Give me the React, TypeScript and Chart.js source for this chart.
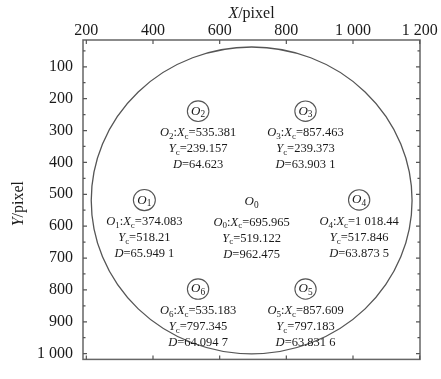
import React, { useEffect, useRef } from "react";
import { Chart, registerables } from "chart.js";

Chart.register(...registerables);

// ---- data ----
const HOLE_NAMES = ["1", "2", "3", "4", "5", "6"];
const HOLE_XC = [374.083, 535.381, 857.463, 1018.44, 857.609, 535.183];
const HOLE_YC = [518.21, 239.157, 239.373, 517.846, 797.183, 797.345];
const HOLE_D = [65.9491, 64.623, 63.9031, 63.8735, 63.8316, 64.0947];

const BIG_NAME = "0";
const BIG_XC = 695.965;
const BIG_YC = 519.122;
const BIG_D = 962.475;

const X_TICKS = [200, 400, 600, 800, 1000, 1200];
const Y_TICKS = [100, 200, 300, 400, 500, 600, 700, 800, 900, 1000];
const Y_MINOR = [50, 150, 250, 350, 450, 550, 650, 750, 850, 950];
const X_RANGE = [190, 1201];
const Y_RANGE = [16, 1018];

const SERIF = '"Liberation Serif", "Times New Roman", serif';
const TEXT_COLOR = "#1a1a1a";
const LINE_COLOR = "#555555";
const NOTE_SIZE = 12.5;

function fmtNum(v: number): string {
  const s = String(v);
  let [ip, dp] = s.split(".");
  ip = ip.replace(/\B(?=(\d{3})+(?!\d))/g, " ");
  if (dp) dp = dp.replace(/(\d{3})(?=\d)/g, "$1 ");
  return dp ? ip + "." + dp : ip;
}

type Seg = { t: string; it?: boolean; sub?: boolean };

function drawRich(ctx: CanvasRenderingContext2D, segs: Seg[], cx: number, cy: number, size: number) {
  const fontOf = (s: Seg) => `${s.it ? "italic " : ""}${s.sub ? size * 0.72 : size}px ${SERIF}`;
  let w = 0;
  for (const s of segs) {
    ctx.font = fontOf(s);
    w += ctx.measureText(s.t).width;
  }
  let x = cx - w / 2;
  ctx.textBaseline = "alphabetic";
  ctx.textAlign = "left";
  const base = cy + size * 0.34;
  for (const s of segs) {
    ctx.font = fontOf(s);
    ctx.fillText(s.t, x, base + (s.sub ? size * 0.22 : 0));
    x += ctx.measureText(s.t).width;
  }
}

function infoLines(name: string, xc: number, yc: number, d: number): Seg[][] {
  return [
    [{ t: "O", it: true }, { t: name, sub: true }, { t: ":" }, { t: "X", it: true }, { t: "c", sub: true }, { t: "=" + fmtNum(xc) }],
    [{ t: "Y", it: true }, { t: "c", sub: true }, { t: "=" + fmtNum(yc) }],
    [{ t: "D", it: true }, { t: "=" + fmtNum(d) }],
  ];
}

const overlayPlugin = {
  id: "overlay",
  afterDraw(chart: any) {
    const ctx: CanvasRenderingContext2D = chart.ctx;
    const xs = chart.scales.x;
    const ys = chart.scales.y;
    const a = chart.chartArea;
    ctx.save();

    // frame
    ctx.strokeStyle = "#666666";
    ctx.lineWidth = 1.5;
    ctx.strokeRect(a.left, a.top, a.right - a.left, a.bottom - a.top);

    // ticks (inward)
    ctx.lineWidth = 1.2;
    ctx.strokeStyle = LINE_COLOR;
    ctx.beginPath();
    for (const v of X_TICKS) {
      const px = xs.getPixelForValue(v);
      ctx.moveTo(px, a.top); ctx.lineTo(px, a.top + 4);
      ctx.moveTo(px, a.bottom); ctx.lineTo(px, a.bottom - 4);
    }
    for (const v of Y_TICKS) {
      const py = ys.getPixelForValue(v);
      ctx.moveTo(a.left, py); ctx.lineTo(a.left + 4, py);
      ctx.moveTo(a.right, py); ctx.lineTo(a.right - 4, py);
    }
    for (const v of Y_MINOR) {
      const py = ys.getPixelForValue(v);
      ctx.moveTo(a.left, py); ctx.lineTo(a.left + 2.5, py);
      ctx.moveTo(a.right, py); ctx.lineTo(a.right - 2.5, py);
    }
    ctx.stroke();

    const ellipse = (xc: number, yc: number, d: number, lw: number) => {
      const cx = xs.getPixelForValue(xc);
      const cy = ys.getPixelForValue(yc);
      const rx = Math.abs(xs.getPixelForValue(xc + d / 2) - cx);
      const ry = Math.abs(ys.getPixelForValue(yc + d / 2) - cy);
      ctx.lineWidth = lw;
      ctx.strokeStyle = LINE_COLOR;
      ctx.beginPath();
      ctx.ellipse(cx, cy, rx, ry, 0, 0, Math.PI * 2);
      ctx.stroke();
      return [cx, cy];
    };

    ctx.fillStyle = TEXT_COLOR;
    // big circle
    const [bx, by] = ellipse(BIG_XC, BIG_YC, BIG_D, 1.3);
    drawRich(ctx, [{ t: "O", it: true }, { t: BIG_NAME, sub: true }], bx, by, 13);
    infoLines(BIG_NAME, BIG_XC, BIG_YC, BIG_D).forEach((ln, i) => drawRich(ctx, ln, bx, by + 21 + i * 16, NOTE_SIZE));

    // small holes
    HOLE_NAMES.forEach((n, k) => {
      const [cx, cy] = ellipse(HOLE_XC[k], HOLE_YC[k], HOLE_D[k], 1.1);
      ctx.fillStyle = TEXT_COLOR;
      drawRich(ctx, [{ t: "O", it: true }, { t: n, sub: true }], cx, cy - 1, 13);
      infoLines(n, HOLE_XC[k], HOLE_YC[k], HOLE_D[k]).forEach((ln, i) => drawRich(ctx, ln, cx, cy + 21 + i * 16, NOTE_SIZE));
    });

    // axis titles
    drawRich(ctx, [{ t: "X", it: true }, { t: "/pixel" }], (a.left + a.right) / 2, 13, 16);
    ctx.save();
    ctx.translate(18, (a.top + a.bottom) / 2 + 4);
    ctx.rotate(-Math.PI / 2);
    drawRich(ctx, [{ t: "Y", it: true }, { t: "/pixel" }], 0, 0, 16);
    ctx.restore();

    ctx.restore();
  },
};

export default function App() {
  const ref = useRef<HTMLCanvasElement | null>(null);
  useEffect(() => {
    if (!ref.current) return;
    const tickFont = { family: SERIF, size: 16 };
    const chart = new Chart(ref.current, {
      type: "scatter",
      data: {
        datasets: [
          {
            data: HOLE_XC.map((x, i) => ({ x, y: HOLE_YC[i] })),
            pointRadius: 0,
            showLine: false,
          },
        ],
      },
      options: {
        responsive: false,
        animation: false,
        layout: { padding: { left: 0, right: 21, top: 0, bottom: 5 } },
        plugins: { legend: { display: false }, tooltip: { enabled: false } },
        scales: {
          x: {
            type: "linear",
            position: "top",
            min: X_RANGE[0],
            max: X_RANGE[1],
            afterBuildTicks: (s: any) => { s.ticks = X_TICKS.map((v) => ({ value: v })); },
            afterFit: (s: any) => { s.height = 40; },
            ticks: { font: tickFont, color: TEXT_COLOR, padding: 0, maxRotation: 0, autoSkip: false, callback: (v: any) => fmtNum(Number(v)) },
            grid: { display: false, drawTicks: false },
            border: { display: false },
          },
          y: {
            type: "linear",
            reverse: true,
            min: Y_RANGE[0],
            max: Y_RANGE[1],
            afterBuildTicks: (s: any) => { s.ticks = Y_TICKS.map((v) => ({ value: v })); },
            afterFit: (s: any) => { s.width = 83; },
            ticks: { font: tickFont, color: TEXT_COLOR, padding: 10, autoSkip: false, callback: (v: any) => fmtNum(Number(v)) },
            grid: { display: false, drawTicks: false },
            border: { display: false },
          },
        },
      },
      plugins: [overlayPlugin],
    });
    return () => chart.destroy();
  }, []);
  return (
    <div style={{ position: "fixed", left: 0, top: 0, width: 441, height: 379, background: "#fff" }}>
      <canvas ref={ref} width={441} height={379} />
    </div>
  );
}
